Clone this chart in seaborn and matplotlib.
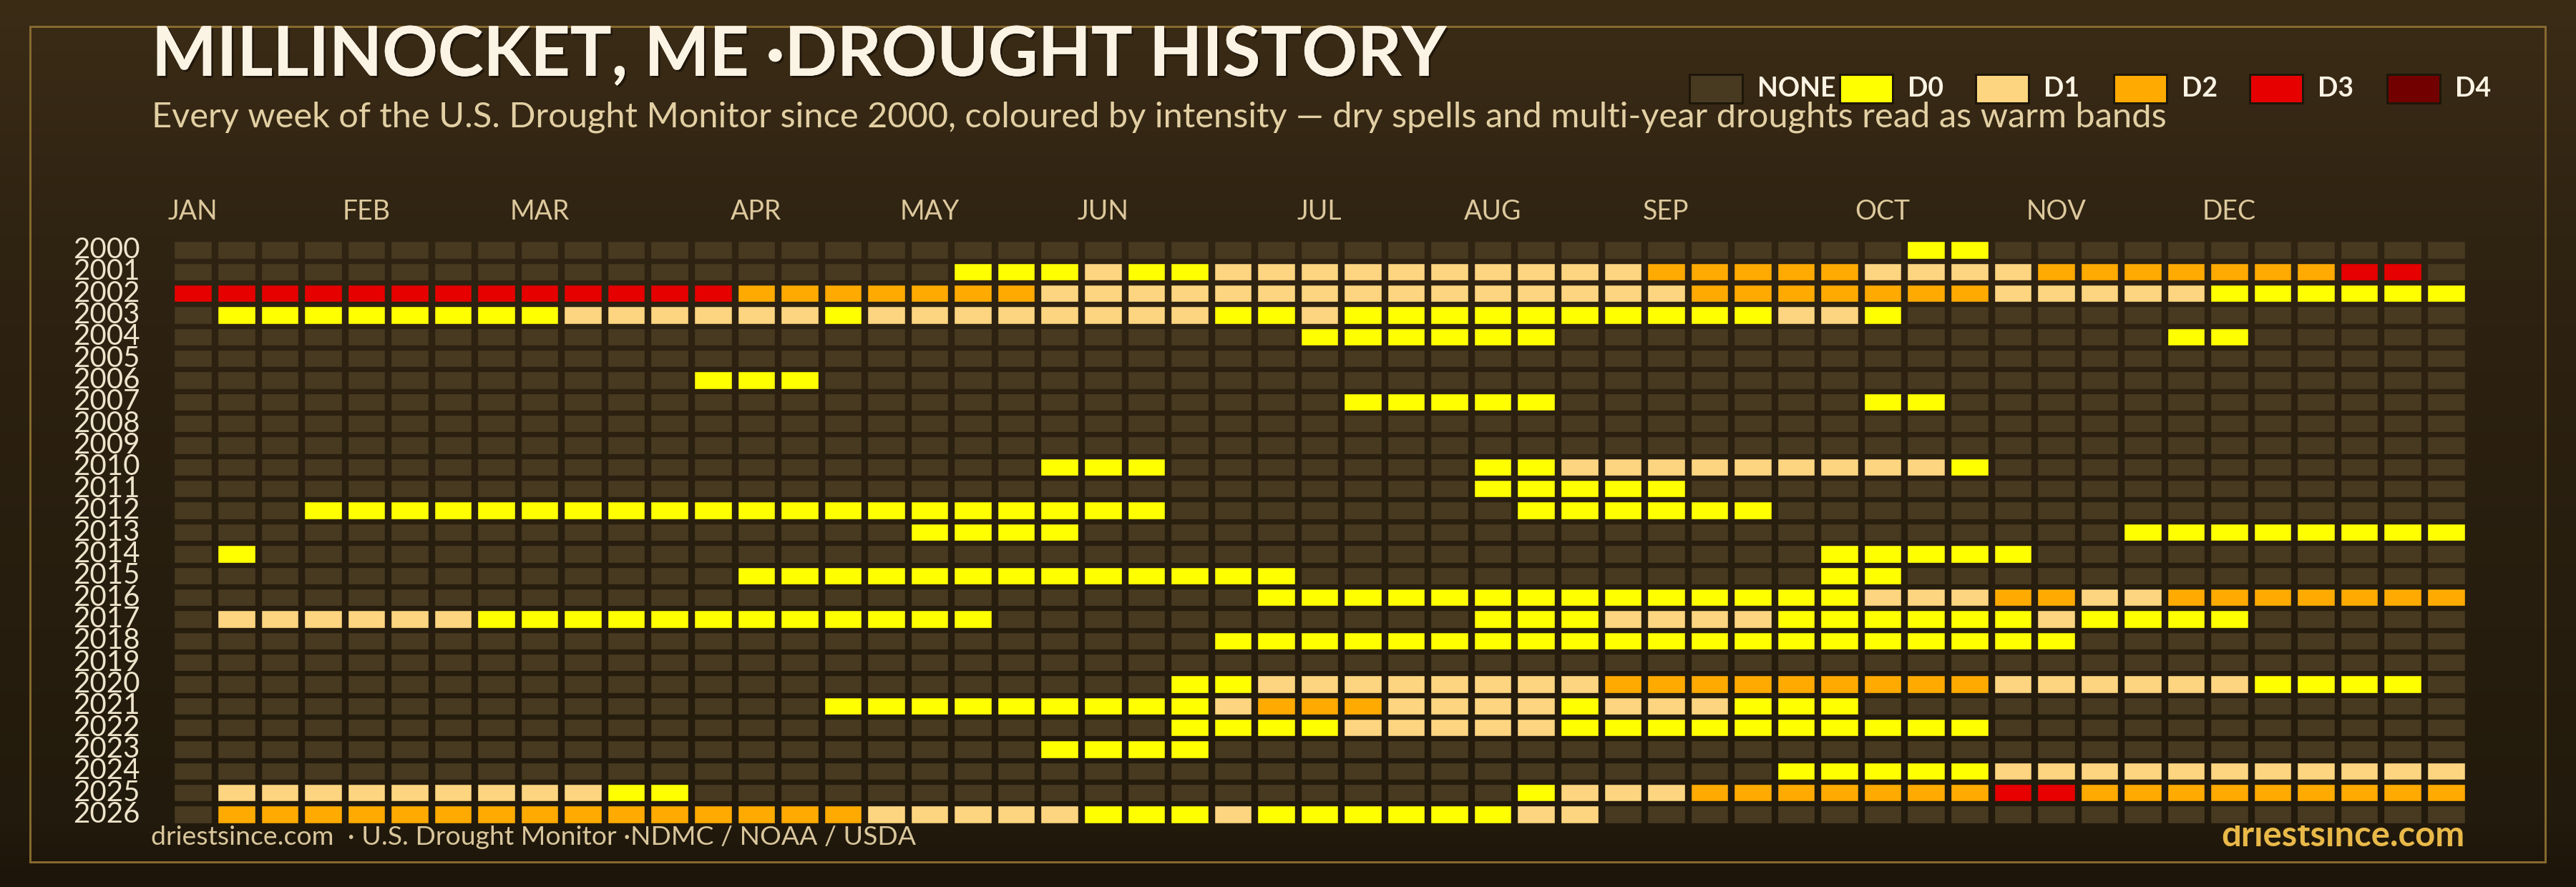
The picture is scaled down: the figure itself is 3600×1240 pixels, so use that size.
import numpy as np
import pandas as pd
import matplotlib
matplotlib.use("Agg")
import matplotlib.pyplot as plt
import seaborn as sns
from matplotlib.colors import ListedColormap, to_rgb
from matplotlib.patches import Rectangle
from matplotlib.collections import LineCollection
import matplotlib.patheffects as pe

# ---------------- data ----------------
YEARS = ["2000", "2001", "2002", "2003", "2004", "2005", "2006", "2007", "2008",
         "2009", "2010", "2011", "2012", "2013", "2014", "2015", "2016", "2017",
         "2018", "2019", "2020", "2021", "2022", "2023", "2024", "2025", "2026"]

# one character per week: '.' = none, '0'..'4' = D0..D4 (spaces only for readability)
WEEKS = [
    ".......... .......... .......... .......... 00........ ...",  # 2000
    ".......... ........00 0100111111 1111222221 1112222222 33.",  # 2001
    "3333333333 3332222222 1111111111 1111122222 2211111000 000",  # 2002
    ".000000001 1111101111 1111001000 0000000110 .......... ...",  # 2003
    ".......... .......... ......0000 00........ ......00.. ...",  # 2004
    ".......... .......... .......... .......... .......... ...",  # 2005
    ".......... ..000..... .......... .......... .......... ...",  # 2006
    ".......... .......... .......000 00.......0 0......... ...",  # 2007
    ".......... .......... .......... .......... .......... ...",  # 2008
    ".......... .......... .......... .......... .......... ...",  # 2009
    ".......... .......... 000....... 0011111111 10........ ...",  # 2010
    ".......... .......... .......... 00000..... .......... ...",  # 2011
    "...0000000 0000000000 000....... .000000... .......... ...",  # 2012
    ".......... .......000 0......... .......... .....00000 000",  # 2013
    ".0........ .......... .......... ........00 000....... ...",  # 2014
    ".......... ...0000000 000000.... ........00 .......... ...",  # 2015
    ".......... .......... .....00000 0000000001 1122112222 222",  # 2016
    ".111111000 000000000. .......... 0001111000 00010000.. ...",  # 2017
    ".......... .......... ....000000 0000000000 0000...... ...",  # 2018
    ".......... .......... .......... .......... .......... ...",  # 2019
    ".......... .......... ...0011111 1112222222 2211111100 00.",  # 2020
    ".......... .....00000 0000122211 110111000. .......... ...",  # 2021
    ".......... .......... ...0000111 1100000000 00........ ...",  # 2022
    ".......... .......... 0000...... .......... .......... ...",  # 2023
    ".......... .......... .......... .......000 0011111111 111",  # 2024
    ".111111111 00........ .......... .011122222 2233222222 222",  # 2025
    ".222222222 2222221111 1000100000 011....... .......... ...",  # 2026
]

MONTHS = ["JAN", "FEB", "MAR", "APR", "MAY", "JUN", "JUL", "AUG", "SEP", "OCT", "NOV", "DEC"]
MONTH_WEEKS = [0, 4, 8, 13, 17, 21, 26, 30, 34, 39, 43, 47]

LEVEL_LABELS = ["NONE", "D0", "D1", "D2", "D3", "D4"]
LEVEL_COLORS = ["#483a20", "#ffff00", "#fdd580", "#ffaa00", "#e60000", "#730000"]

TITLE = "MILLINOCKET, ME \u00b7DROUGHT HISTORY"
SUBTITLE = ("Every week of the U.S. Drought Monitor since 2000, coloured by intensity \u2014 "
            "dry spells and multi-year droughts read as warm bands")
FOOT_LEFT = "driestsince.com  \u00b7 U.S. Drought Monitor \u00b7NDMC / NOAA / USDA"
FOOT_RIGHT = "driestsince.com"

# ---------------- build matrix ----------------
codes = {".": 0, "0": 1, "1": 2, "2": 3, "3": 4, "4": 5}
rows = []
for r in WEEKS:
    s = r.replace(" ", "")
    assert len(s) == 53, (r, len(s))
    rows.append([codes[c] for c in s])
df = pd.DataFrame(rows, index=YEARS, columns=list(range(1, 54)))

# ---------------- figure ----------------
W, H, DPI = 3600, 1240, 100
sns.set_theme(style="white")
plt.rcParams["font.family"] = ["Lato", "DejaVu Sans"]
PT = 72.0 / DPI  # points per pixel

fig = plt.figure(figsize=(W / DPI, H / DPI), dpi=DPI)

stop_y = np.array([0, 330, 1150, 1240], float)
stop_c = np.array([to_rgb(c) for c in ["#3b2c16", "#2f2312", "#221a0c", "#1d140a"]])


def grad(y):
    return tuple(np.interp(y, stop_y, stop_c[:, k]) for k in range(3))


bg = fig.add_axes([0, 0, 1, 1], zorder=0)
bg.set_xlim(0, W)
bg.set_ylim(H, 0)
bg.axis("off")
ys = np.arange(H) + 0.5
img = np.array([grad(y) for y in ys]).reshape(H, 1, 3)
bg.imshow(img, extent=[0, W, H, 0], aspect="auto", interpolation="bilinear", zorder=0)
bg.add_patch(Rectangle((42, 37), 3515, 1168, fill=False, edgecolor="#86692f", lw=3 * PT, zorder=1))

# heatmap axes in pixel geometry
X0, X1 = 239.4, 3448.6
Y0, Y1 = 334.3, 1153.7
hm = fig.add_axes([X0 / W, 1 - Y1 / H, (X1 - X0) / W, (Y1 - Y0) / H], zorder=2)
hm.patch.set_alpha(0)

cmap = ListedColormap(LEVEL_COLORS)
sns.heatmap(df, ax=hm, cmap=cmap, vmin=-0.5, vmax=5.5, cbar=False,
            linewidths=0, xticklabels=False, yticklabels=YEARS)

nrow, ncol = df.shape
# gaps between cells (coloured like the background behind them)
gap_w, gap_h = 9.4, 7.4
segs, cols = [], []
for j in range(nrow):
    cy = Y0 + (Y1 - Y0) * (j + 0.5) / nrow
    c = grad(cy)
    for x in range(ncol + 1):
        segs.append([(x, j), (x, j + 1)])
        cols.append(c)
hm.add_collection(LineCollection(segs, colors=cols, linewidths=gap_w * PT, zorder=3))
for j in range(nrow + 1):
    py = Y0 + (Y1 - Y0) * j / nrow
    hm.axhline(j, color=grad(py), lw=gap_h * PT, zorder=4)

for s in hm.spines.values():
    s.set_visible(False)

hm.set_ylabel("")
hm.set_xlabel("")
hm.tick_params(axis="y", length=0, pad=44 * PT, labelsize=29, labelcolor="#efe4cc")
for t in hm.get_yticklabels():
    t.set_rotation(0)

hm.xaxis.tick_top()
hm.set_xticks([w + 0.5 for w in MONTH_WEEKS])
hm.set_xticklabels(MONTHS)
hm.tick_params(axis="x", length=0, pad=20 * PT, labelsize=27, labelcolor="#dcc89c",
               top=True, bottom=False, labeltop=True, labelbottom=False)

# ---------------- texts ----------------
title = bg.text(212, 106, TITLE, fontsize=70, fontweight="bold", color="#fbf3e4",
                ha="left", va="baseline", zorder=5)
title.set_path_effects([pe.withSimplePatchShadow(offset=(2, -2), shadow_rgbFace="#1a1208", alpha=0.8),
                        pe.Normal()])
sub = bg.text(212, 177, SUBTITLE, fontsize=29, color="#e2cfa3", ha="left", va="baseline", zorder=5)
fl = bg.text(211, 1181, FOOT_LEFT, fontsize=24, color="#d9c69c", ha="left", va="baseline", zorder=5)
fr = bg.text(3444, 1183, FOOT_RIGHT, fontsize=28, fontweight="bold", color="#e9b949",
             ha="right", va="baseline", zorder=5)

# fit widths to the reference layout
fig.canvas.draw()
r = fig.canvas.get_renderer()


def fit(t, target):
    w = t.get_window_extent(r).width
    t.set_fontsize(t.get_fontsize() * target / w)


fit(title, 2025 - 214)
fit(sub, 3030 - 212)
fit(fl, 1281 - 211)
fit(fr, 3444 - 3104)

# legend
box_x = [2361, 2571, 2761, 2954, 3144, 3336]
for lab, col, bx in zip(LEVEL_LABELS, LEVEL_COLORS, box_x):
    bg.add_patch(Rectangle((bx, 104), 74, 40, facecolor=col, edgecolor="#1e160a",
                           lw=3 * PT, zorder=5))
    bg.text(bx + 95, 124, lab, fontsize=27, fontweight="bold", color="#fbf3e4",
            ha="left", va="center", zorder=6)

fig.savefig("out.png", dpi=DPI, facecolor=fig.get_facecolor())
